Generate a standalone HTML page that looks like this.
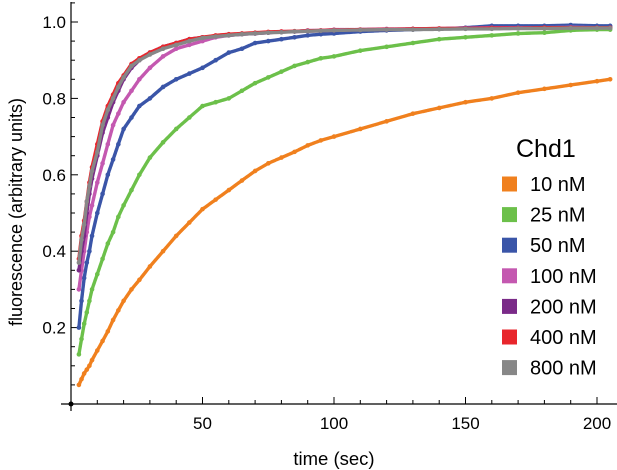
<!DOCTYPE html>
<html><head><meta charset="utf-8"><style>
html,body{margin:0;padding:0;background:#fff;}
svg{display:block;font-family:"Liberation Sans",sans-serif;}
</style></head><body>
<svg id="chart" width="617" height="470" viewBox="0 0 617 470" xmlns="http://www.w3.org/2000/svg">
<g id="axes"></g>
<g id="series"></g>
<text x="334" y="465" font-size="18.5" text-anchor="middle">time (sec)</text>
<text transform="translate(22,212) rotate(-90)" font-size="18" text-anchor="middle">fluorescence (arbitrary units)</text>
<g id="legend">
<text x="516" y="157" font-size="25">Chd1</text>
</g>
</svg>
<script>
const times=[3,4,5,6,7,8,10,12,14,16,18,20,23,26,30,35,40,45,50,55,60,65,70,75,80,85,90,95,100,110,120,130,140,150,160,170,180,190,200,205];
const seriesNames=["10 nM","25 nM","50 nM","100 nM","200 nM","400 nM","800 nM"];
const seriesColors=["#f0801e","#6cc04a","#3a55a8","#c458b0","#7a2a88","#e8262c","#878787"];
const s10=[.05,.065,.08,.09,.10,.115,.14,.165,.19,.22,.245,.27,.30,.325,.36,.40,.44,.475,.51,.535,.56,.585,.61,.63,.645,.66,.677,.69,.70,.72,.74,.76,.775,.79,.80,.815,.825,.835,.845,.85];
const s25=[.13,.17,.21,.24,.27,.30,.34,.38,.42,.45,.49,.52,.56,.60,.645,.685,.72,.75,.78,.79,.80,.82,.84,.855,.87,.885,.895,.905,.91,.925,.935,.945,.955,.96,.965,.97,.972,.978,.98,.98];
const s50=[.20,.27,.33,.37,.40,.44,.50,.55,.60,.64,.68,.72,.75,.78,.80,.83,.85,.865,.88,.90,.92,.93,.945,.95,.955,.96,.965,.968,.97,.975,.978,.98,.982,.985,.99,.99,.99,.992,.99,.99];
const s100=[.30,.35,.40,.45,.49,.52,.58,.63,.68,.73,.76,.79,.82,.85,.88,.91,.93,.94,.95,.96,.965,.968,.97,.972,.975,.975,.978,.978,.98,.98,.982,.982,.983,.984,.985,.985,.985,.986,.985,.985];
const s200=[.35,.40,.44,.50,.55,.59,.65,.71,.75,.79,.82,.85,.88,.90,.92,.935,.945,.955,.96,.963,.965,.968,.97,.972,.974,.975,.976,.977,.978,.98,.98,.982,.982,.983,.984,.984,.985,.985,.985,.985];
const s400=[.38,.44,.48,.53,.58,.62,.68,.74,.78,.81,.84,.86,.89,.905,.92,.935,.945,.955,.96,.965,.968,.97,.972,.974,.975,.976,.977,.978,.979,.98,.981,.982,.983,.983,.984,.984,.985,.985,.985,.985];
const s800=[.37,.43,.47,.53,.57,.61,.66,.73,.77,.80,.83,.855,.885,.90,.915,.93,.94,.95,.958,.962,.965,.968,.97,.972,.973,.975,.976,.977,.978,.979,.98,.98,.981,.982,.982,.983,.983,.984,.984,.984];
const allSeries=[s10,s25,s50,s100,s200,s400,s800];
const yTicks=[0.2,0.4,0.6,0.8,1.0];
const xTicks=[50,100,150,200];

const NS="http://www.w3.org/2000/svg";
const X0=71,XS=2.63,Y0=404,YS=382;
function sx(t){return X0+t*XS;}
function sy(v){return Y0-v*YS;}
function mk(tag,attrs,parent){const e=document.createElementNS(NS,tag);for(const k in attrs)e.setAttribute(k,attrs[k]);parent.appendChild(e);return e;}
const axes=document.getElementById('axes');
let e;
e=mk('line',{x1:X0,y1:2,x2:X0,y2:411,stroke:'#000','stroke-width':1.2},axes);


e=mk('line',{x1:61,y1:404,x2:617,y2:404,stroke:'#000','stroke-width':1.2},axes);


e=mk('circle',{cx:X0,cy:404,r:2.5,fill:'#000'},axes);


for(let v=0.05;v<1.06;v+=0.05){
  const major=Math.abs(v*5-Math.round(v*5))<1e-6;
  e=mk('line',{x1:X0,y1:sy(v),x2:X0+(major?7:4),y2:sy(v),stroke:'#000','stroke-width':1},axes);
  
  
}
for(let t=10;t<=200;t+=10){
  const major=t%50===0;
  e=mk('line',{x1:sx(t),y1:404,x2:sx(t),y2:404-(major?7:4),stroke:'#000','stroke-width':1},axes);
  
  
}
yTicks.forEach(v=>{
  e=mk('text',{x:66,y:sy(v)+6,'font-size':17,'text-anchor':'end'},axes);
  e.textContent=v.toFixed(1);
  
  
});
xTicks.forEach(t=>{
  e=mk('text',{x:sx(t),y:429,'font-size':17,'text-anchor':'middle'},axes);
  e.textContent=String(t);
  
  
});
const sg=document.getElementById('series');
allSeries.forEach((vals,i)=>{
  const g=mk('g',{},sg);
  
  
  const pts=vals.map((v,j)=>sx(times[j]).toFixed(1)+','+sy(v).toFixed(1)).join(' ');
  const pl=mk('polyline',{points:pts,fill:'none',stroke:seriesColors[i],'stroke-width':3.4,'stroke-linejoin':'round','stroke-linecap':'round','stroke-dasharray':'4 1'},g);
  
  
  vals.forEach((v,j)=>{
    const c=mk('circle',{cx:sx(times[j]),cy:sy(v),r:2.3,fill:seriesColors[i]},g);
    
    
  });
});
const lg=document.getElementById('legend');
seriesNames.forEach((n,i)=>{
  const cy=184+i*30.6;
  const r=mk('rect',{x:502,y:cy-7.5,width:15,height:15,fill:seriesColors[i]},lg);
  
  
  const t=mk('text',{x:530,y:cy+7,'font-size':20},lg);
  t.textContent=n;
  
  
});
</script>
</body></html>
